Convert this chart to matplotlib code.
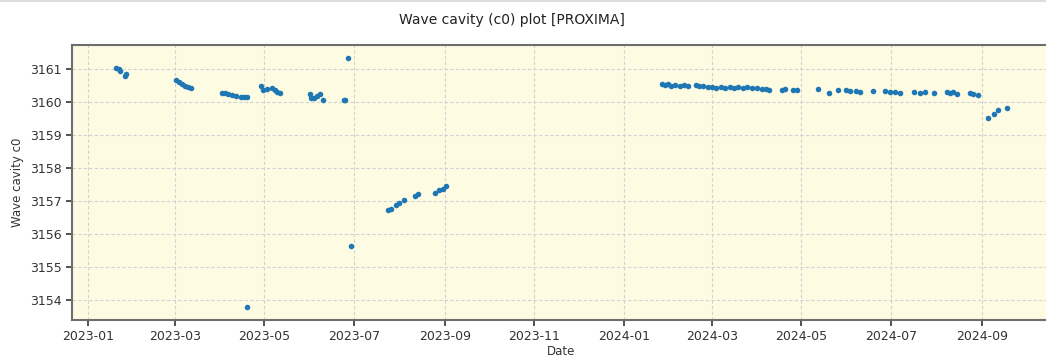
import matplotlib
matplotlib.use('Agg')
import matplotlib.pyplot as plt
import matplotlib.dates as mdates
import numpy as np
from matplotlib.lines import Line2D

# Messpunkte
dates = [
    '2023-01-20', '2023-01-22', '2023-01-23', '2023-01-26', '2023-01-27',
    '2023-03-02', '2023-03-04', '2023-03-06', '2023-03-08', '2023-03-10', '2023-03-12',
    '2023-04-02', '2023-04-04', '2023-04-06', '2023-04-09', '2023-04-12', '2023-04-15',
    '2023-04-17', '2023-04-19', '2023-04-19',
    '2023-04-29', '2023-04-30', '2023-05-03', '2023-05-06', '2023-05-08', '2023-05-10', '2023-05-12',
    '2023-06-01', '2023-06-02', '2023-06-04', '2023-06-06', '2023-06-08', '2023-06-10',
    '2023-06-24', '2023-06-25', '2023-06-27', '2023-06-29',
    '2023-07-24', '2023-07-26', '2023-07-30', '2023-08-01', '2023-08-04', '2023-08-12',
    '2023-08-14', '2023-08-25', '2023-08-28', '2023-08-31', '2023-09-02',
    '2024-01-27', '2024-01-29', '2024-01-31', '2024-02-02', '2024-02-05', '2024-02-08',
    '2024-02-11', '2024-02-14', '2024-02-19', '2024-02-21', '2024-02-24', '2024-02-27',
    '2024-03-01', '2024-03-04', '2024-03-07', '2024-03-10', '2024-03-13', '2024-03-16',
    '2024-03-19', '2024-03-22', '2024-03-25', '2024-03-28', '2024-04-01', '2024-04-04',
    '2024-04-07', '2024-04-09', '2024-04-18', '2024-04-20', '2024-04-25', '2024-04-28',
    '2024-05-12', '2024-05-20', '2024-05-26', '2024-05-31', '2024-06-03', '2024-06-07',
    '2024-06-10', '2024-06-19', '2024-06-27', '2024-06-30', '2024-07-04', '2024-07-07',
    '2024-07-17', '2024-07-21', '2024-07-24', '2024-07-30', '2024-08-08', '2024-08-10',
    '2024-08-12', '2024-08-15', '2024-08-24', '2024-08-26', '2024-08-29',
    '2024-09-05', '2024-09-09', '2024-09-12', '2024-09-18',
]
c0 = [
    3161.02, 3160.99, 3160.95, 3160.79, 3160.84,
    3160.67, 3160.60, 3160.55, 3160.48, 3160.45, 3160.42,
    3160.26, 3160.26, 3160.24, 3160.21, 3160.18, 3160.16,
    3160.15, 3160.14, 3153.78,
    3160.48, 3160.36, 3160.39, 3160.42, 3160.36, 3160.30, 3160.27,
    3160.24, 3160.13, 3160.12, 3160.18, 3160.24, 3160.06,
    3160.06, 3160.06, 3161.35, 3155.63,
    3156.74, 3156.77, 3156.87, 3156.95, 3157.04, 3157.14,
    3157.22, 3157.24, 3157.32, 3157.37, 3157.44,
    3160.55, 3160.52, 3160.56, 3160.50, 3160.53, 3160.50,
    3160.51, 3160.49, 3160.52, 3160.50, 3160.48, 3160.47,
    3160.46, 3160.44, 3160.46, 3160.43, 3160.45, 3160.44,
    3160.46, 3160.44, 3160.45, 3160.43, 3160.44, 3160.41,
    3160.40, 3160.38, 3160.38, 3160.39, 3160.36, 3160.37,
    3160.40, 3160.28, 3160.36, 3160.38, 3160.35, 3160.32,
    3160.30, 3160.34, 3160.33, 3160.30, 3160.31, 3160.27,
    3160.31, 3160.28, 3160.29, 3160.28, 3160.31, 3160.28,
    3160.30, 3160.25, 3160.28, 3160.25, 3160.21,
    3159.53, 3159.63, 3159.75, 3159.82,
]
t = np.array(dates, dtype='datetime64[D]')

fig = plt.figure(figsize=(10.46, 3.61), dpi=100)
ax = fig.add_axes([72 / 1046, 41 / 361, (1051 - 72) / 1046, (320 - 45) / 361])
ax.set_facecolor('#fdfbe2')
ax.plot(t, c0, 'o', color='#1f77b4', markersize=4, markeredgewidth=0)

ax.set_xlim(np.datetime64('2022-12-21'), np.datetime64('2024-10-18'))
ax.set_ylim(3153.39, 3161.73)
ax.xaxis.set_major_locator(mdates.MonthLocator(bymonth=[1, 3, 5, 7, 9, 11]))
ax.xaxis.set_major_formatter(mdates.DateFormatter('%Y-%m'))
ax.tick_params(labelsize=9, colors='#333333', width=1.2, length=4)
for s in ax.spines.values():
    s.set_color('#6e6e6e')
    s.set_linewidth(1.5)
ax.grid(True, linestyle=(0, (3, 2)), color='#d2d2d2', linewidth=0.8)
ax.set_xlabel('Date', fontsize=8.5, color='#333333', labelpad=1)
ax.set_ylabel('Wave cavity c0', fontsize=8.5, color='#333333')
fig.text(512 / 1046, 1 - 20 / 361, 'Wave cavity (c0) plot [PROXIMA]', ha='center', va='center',
         fontsize=10, color='#222222')
fig.add_artist(Line2D([0, 1], [0.997, 0.997], transform=fig.transFigure, color='#dddddd', linewidth=1.5))

fig.savefig('out.png', dpi=100)
